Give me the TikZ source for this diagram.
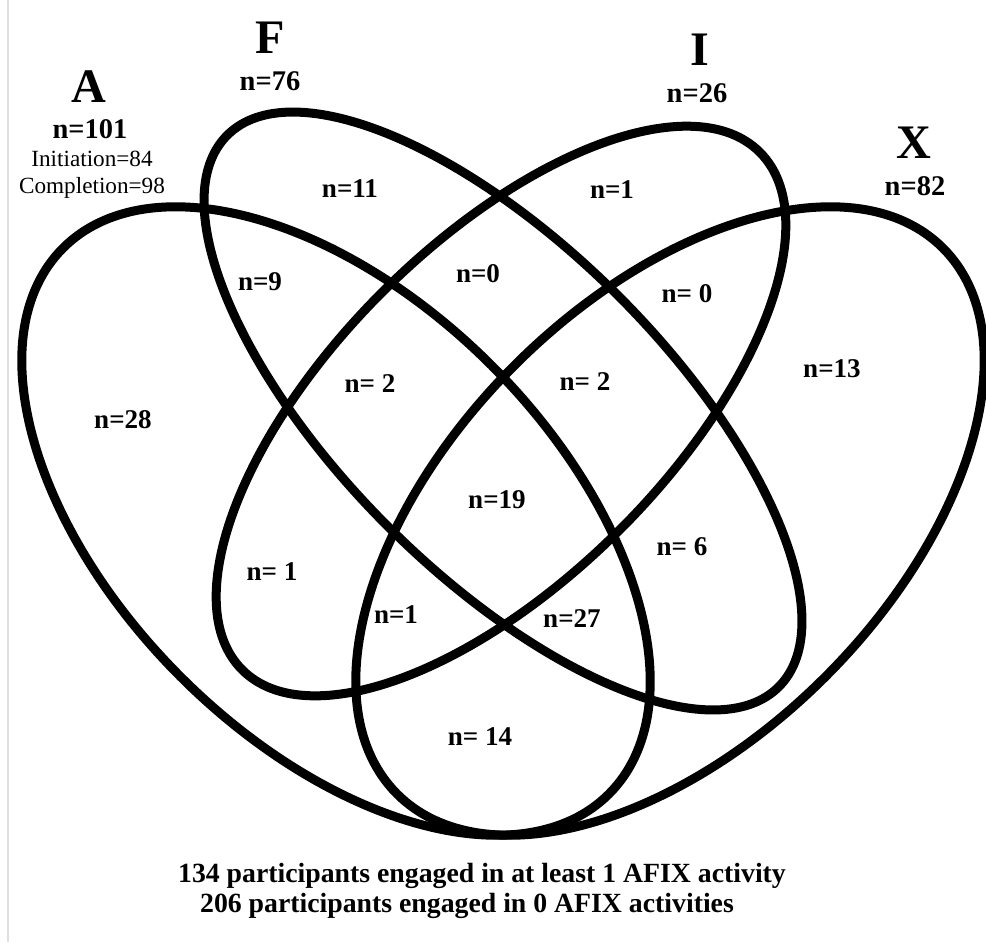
\documentclass[tikz,border=0pt]{standalone}
\usepackage{fontspec}
\setmainfont{Liberation Serif}
\tikzstyle{setline}=[line width=0.9mm]
\tikzstyle{setname}=[font=\fontsize{13.7}{16}\selectfont\bfseries,anchor=base,inner sep=0pt]
\tikzstyle{setcount}=[font=\fontsize{8.1}{9.7}\selectfont\bfseries,anchor=base,inner sep=0pt]
\tikzstyle{subcount}=[font=\fontsize{6.6}{8}\selectfont,anchor=base,inner sep=0pt]
\tikzstyle{region}=[font=\fontsize{7.7}{9}\selectfont\bfseries,anchor=base,inner sep=0pt]
\tikzstyle{footer}=[font=\fontsize{7.9}{9.5}\selectfont\bfseries,anchor=base,inner sep=0pt]
\begin{document}
\begin{tikzpicture}[x=0.1mm,y=-0.1mm]
\useasboundingbox (0,0) rectangle (986,942);
\draw [gray!25, line width=0.25mm] (8,0) -- (8,942);
% the four sets
\draw [setline, rotate around={-45:(336,521)}] (336,521) ellipse [x radius=386, y radius=220];
\draw [setline, rotate around={45:(670,521)}] (670,521) ellipse [x radius=386, y radius=220];
\draw [setline, rotate around={-45:(503,411)}] (503,411) ellipse [x radius=390, y radius=163];
\draw [setline, rotate around={45:(501,411)}] (501,411) ellipse [x radius=366, y radius=168];
% set names
\node (nameA) [setname] at (89,102) {A};
\node (nameF) [setname] at (270,53) {F};
\node (nameI) [setname] at (700,65) {I};
\node (nameX) [setname] at (914,158) {X};
\node (countA) [setcount] at (90,138) {n=101};
\node (initA) [subcount] at (92,166) {Initiation=84};
\node (complA) [subcount] at (92,193) {Completion=98};
\node (countF) [setcount] at (270,90) {n=76};
\node (countI) [setcount] at (697,102) {n=26};
\node (countX) [setcount] at (915,195) {n=82};
% regions
\node (rF) [region] at (350,197) {n=11};
\node (rAF) [region] at (260,290) {n=9};
\node (rFI) [region] at (478,282) {n=0};
\node (rI) [region] at (612,198) {n=1};
\node (rIX) [region] at (687,302) {n= 0};
\node (rAFI) [region] at (370,392) {n= 2};
\node (rFIX) [region] at (585,390) {n= 2};
\node (rX) [region] at (832,377) {n=13};
\node (rA) [region] at (123,428) {n=28};
\node (rAFIX) [region] at (497,508) {n=19};
\node (rFX) [region] at (682,555) {n= 6};
\node (rAFX) [region] at (572,627) {n=27};
\node (rAIX) [region] at (396,623) {n=1};
\node (rAI) [region] at (272,580) {n= 1};
\node (rAX) [region] at (480,745) {n= 14};
% totals
\node (engaged) [footer] at (482,882) {134 participants engaged in at least 1 AFIX activity};
\node (idle) [footer] at (467,912) {206 participants engaged in 0 AFIX activities};
\end{tikzpicture}
\end{document}
